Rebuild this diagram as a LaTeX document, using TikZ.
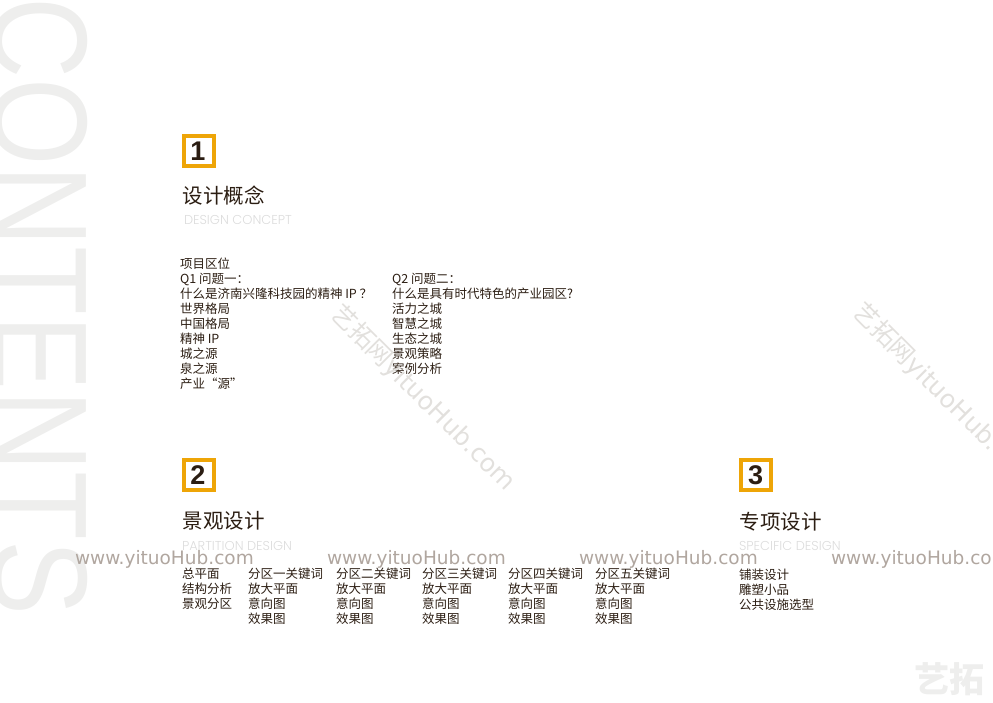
\documentclass[tikz,border=0pt]{standalone}
\usepackage{fontspec}
\setmainfont{Liberation Sans}
\newfontfamily\cjk{Noto Sans CJK SC}
\newfontfamily\latinhead{Poppins Light}
\newfontfamily\wmfont{DejaVu Sans}
\definecolor{ink}{HTML}{2B1D12}
\definecolor{amber}{HTML}{EEA507}
\definecolor{pale}{HTML}{EEEEED}
\definecolor{subhead}{HTML}{DCDCDC}
\definecolor{wmtext}{HTML}{B0A69F}
\definecolor{wmdiag}{HTML}{E2E0DD}
\tikzset{
  x=1pt,y=-1pt,
  every node/.style={inner sep=0pt,outer sep=0pt},
  numbox/.style={draw=amber,line width=3.6pt,fill=white,minimum size=30.4pt,anchor=center,font=\fontsize{27}{27}\selectfont\bfseries,text=ink},
  headcn/.style={anchor=west,font=\fontsize{20.5}{24}\selectfont\cjk,text=ink},
  headen/.style={anchor=west,font=\fontsize{12.9}{14}\selectfont\latinhead,text=subhead},
  body/.style={anchor=north west,align=left,font=\fontsize{12.5}{15}\selectfont\cjk,text=ink},
  wmh/.style={anchor=west,font=\fontsize{18.5}{20}\selectfont\wmfont,text=wmtext},
  wmd/.style={anchor=west,rotate=-45,font=\fontsize{25}{26}\selectfont\wmfont,text=wmdiag},
}
\begin{document}
\begin{tikzpicture}
\useasboundingbox (0,0) rectangle (993,702);
\clip (0,0) rectangle (993,702);
\node[anchor=base west,rotate=-90,text=pale,font=\fontsize{135}{135}\selectfont] (contents) at (-6,-3) {\scalebox{.833}[1]{CONTENTS}};

\node[numbox] (n1) at (199,151) {\kern-2pt 1};
\node[headcn] (h1) at (182.5,196) {设计概念};
\node[headen] (e1) at (184,220) {DESIGN CONCEPT};
\node[body] (a1) at (180,258.2) {项目区位\\Q1 问题一：\\什么是济南兴隆科技园的精神 IP ？\\世界格局\\中国格局\\精神 IP\\城之源\\泉之源\\产业“源”};
\node[body] (a2) at (392,273.2) {Q2 问题二：\\什么是具有时代特色的产业园区?\\活力之城\\智慧之城\\生态之城\\景观策略\\案例分析};

\node[numbox] (n2) at (199,475) {\kern-2pt 2};
\node[headcn] (h2) at (182.5,521) {景观设计};
\node[headen] (e2) at (182,546) {PARTITION DESIGN};
\node[body] (b1) at (182,568) {总平面\\结构分析\\景观分区};
\node[body] (b2) at (248,568) {分区一关键词\\放大平面\\意向图\\效果图};
\node[body] (b3) at (336,568) {分区二关键词\\放大平面\\意向图\\效果图};
\node[body] (b4) at (422,568) {分区三关键词\\放大平面\\意向图\\效果图};
\node[body] (b5) at (508,568) {分区四关键词\\放大平面\\意向图\\效果图};
\node[body] (b6) at (595,568) {分区五关键词\\放大平面\\意向图\\效果图};

\node[numbox] (n3) at (756,475) {\kern-1pt 3};
\node[headcn] (h3) at (739.5,522) {专项设计};
\node[headen] (e3) at (739,546) {SPECIFIC DESIGN};
\node[body] (c1) at (739,569) {铺装设计\\雕塑小品\\公共设施选型};

\node[wmh] (w1) at (75,559) {www.yituoHub.com};
\node[wmh] (w2) at (327,559) {www.yituoHub.com};
\node[wmh] (w3) at (579,559) {www.yituoHub.com};
\node[wmh] (w4) at (831,559) {www.yituoHub.com};
\node[wmd] (d1) at (335,310) {{\cjk 艺拓网}yituoHub.com};
\node[wmd] (d2) at (857,308) {{\cjk 艺拓网}yituoHub.com};
\node[anchor=center,text=pale,font=\fontsize{35}{35}\selectfont\cjk\bfseries] (logo) at (949,679) {艺拓};
\end{tikzpicture}
\end{document}
